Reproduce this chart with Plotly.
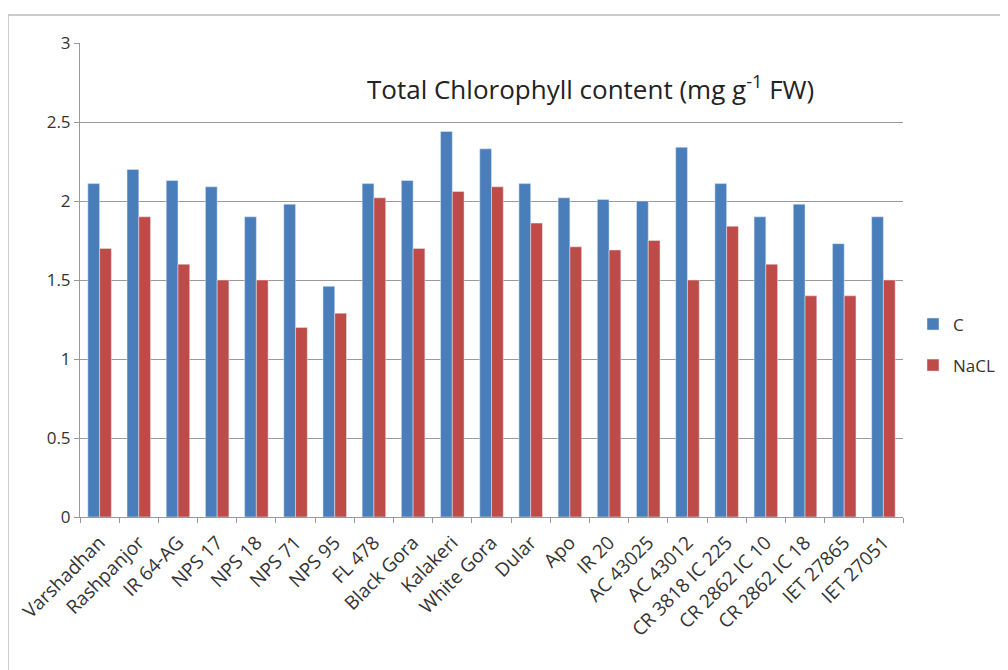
import plotly.graph_objects as go

categories = ["Varshadhan", "Rashpanjor", "IR 64-AG", "NPS 17", "NPS 18", "NPS 71", "NPS 95",
              "FL 478", "Black Gora", "Kalakeri", "White Gora", "Dular", "Apo", "IR 20",
              "AC 43025", "AC 43012", "CR 3818 IC 225", "CR 2862 IC 10", "CR 2862 IC 18",
              "IET 27865", "IET 27051"]
c_values = [2.11, 2.20, 2.13, 2.09, 1.90, 1.98, 1.46, 2.11, 2.13, 2.44, 2.33, 2.11, 2.02, 2.01,
            2.00, 2.34, 2.11, 1.90, 1.98, 1.73, 1.90]
nacl_values = [1.70, 1.90, 1.60, 1.50, 1.50, 1.20, 1.29, 2.02, 1.70, 2.06, 2.09, 1.86, 1.71, 1.69,
               1.75, 1.50, 1.84, 1.60, 1.40, 1.40, 1.50]
y_ticks = [0, 0.5, 1, 1.5, 2, 2.5, 3]
y_tick_text = ["0", "0.5", "1", "1.5", "2", "2.5", "3"]

font_family = "Open Sans, Liberation Sans, sans-serif"

fig = go.Figure()
fig.add_trace(go.Bar(x=categories, y=c_values, name="C", marker_color="#4A7EBB",
                     legendgroup="c"))
fig.add_trace(go.Bar(x=categories, y=nacl_values, name="NaCL", marker_color="#BE4B48",
                     legendgroup="n"))

# page body has an 8px margin: figure is 1000x662 placed at (8, 8)
fig.update_layout(
    width=1000, height=662,
    margin=dict(l=72, r=105, t=35, b=153, autoexpand=False),
    paper_bgcolor="white", plot_bgcolor="white",
    barmode="group", bargap=0.4, bargroupgap=0,
    font=dict(family=font_family, size=16, color="#333333"),
    showlegend=True,
    legend=dict(xref="container", yref="container", x=0.905, y=0.491,
                xanchor="left", yanchor="middle",
                font=dict(size=17, color="#333333"), tracegroupgap=16,
                itemwidth=30, bgcolor="rgba(0,0,0,0)"),
    xaxis=dict(tickangle=-45, showgrid=False, showline=True, linecolor="#999999",
               ticks="outside", tickson="boundaries", tickcolor="#999999", ticklen=5,
               ticklabelstandoff=6,
               automargin=False, tickfont=dict(size=19, color="#333333")),
    yaxis=dict(range=[0, 3], tickvals=y_ticks, ticktext=y_tick_text, showgrid=True,
               gridcolor="#9a9a9a", gridwidth=1, showline=True, linecolor="#999999",
               ticks="outside", tickcolor="#999999", ticklen=5, zeroline=False,
               automargin=False, tickfont=dict(size=17, color="#333333")),
    annotations=[dict(text="Total Chlorophyll content (mg g<sup>-1</sup> FW)",
                      xref="paper", yref="paper", x=0.62, y=0.905, showarrow=False,
                      xanchor="center", yanchor="middle",
                      font=dict(size=26, color="#222222", family=font_family))],
    shapes=[dict(type="rect", xref="paper", yref="paper", x0=-0.0875, x1=1.13,
                 y0=-0.33, y1=1.059, line=dict(color="#bbbbbb", width=1.5),
                 fillcolor="rgba(0,0,0,0)", layer="below")],
)

fig.write_html("out.html")
